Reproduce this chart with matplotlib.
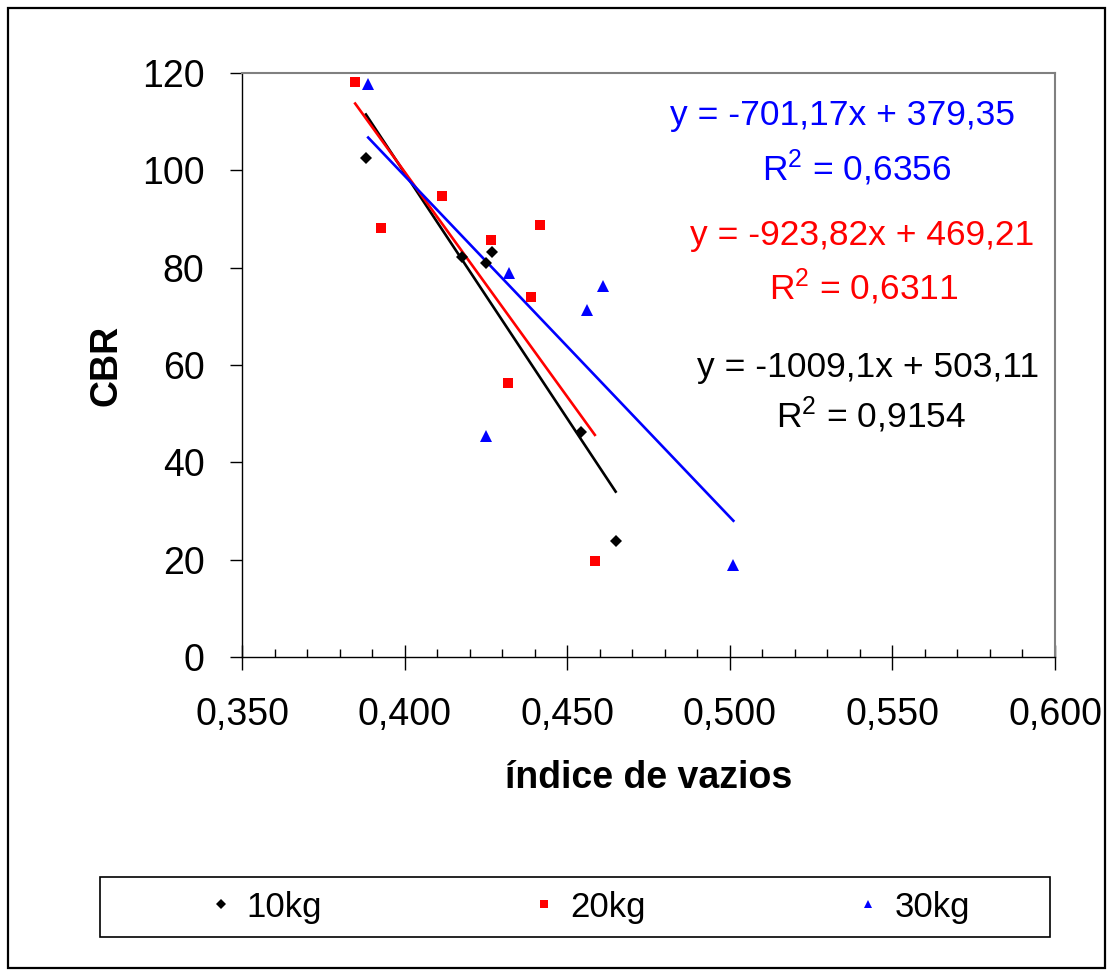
import numpy as np
import matplotlib
matplotlib.use('Agg')
import matplotlib.pyplot as plt
from matplotlib.patches import Rectangle
from matplotlib.ticker import MultipleLocator, FuncFormatter

plt.rcParams['font.family'] = ['Liberation Sans', 'DejaVu Sans']
plt.rcParams['mathtext.fontset'] = 'custom'
plt.rcParams['mathtext.rm'] = 'Liberation Sans'
plt.rcParams['mathtext.it'] = 'Liberation Sans'

# 10kg
x_10 = [0.3881, 0.4176, 0.4249, 0.4268, 0.4541, 0.4649]
y_10 = [102.5, 82.1, 80.9, 83.3, 46.2, 23.9]
# 20kg
x_20 = [0.3848, 0.3928, 0.4116, 0.4266, 0.4416, 0.4389, 0.4317, 0.4585]
y_20 = [118.1, 88.1, 94.7, 85.6, 88.8, 74.0, 56.4, 19.7]
# 30kg
x_30 = [0.3888, 0.4321, 0.4249, 0.4611, 0.4560, 0.5011]
y_30 = [117.7, 79.0, 45.5, 76.2, 71.2, 18.9]

series_names = ['10kg', '20kg', '30kg']
slopes = [-1009.1, -923.82, -701.17]
intercepts = [503.11, 469.21, 379.35]
r2_values = ['0,9154', '0,6311', '0,6356']
eq_texts = ['y = -1009,1x + 503,11', 'y = -923,82x + 469,21', 'y = -701,17x + 379,35']

colors = ['black', '#ff0000', '#0000ff']
markers = ['D', 's', '^']
msizes = [6, 7, 8]

W, H = 1113, 976
fig = plt.figure(figsize=(W / 100, H / 100), dpi=100)

def fx(px):
    return px / W

def fy(py):
    return 1 - py / H

ax = fig.add_axes([fx(242), fy(657), fx(1055) - fx(242), fy(73) - fy(657)])

xs = [x_10, x_20, x_30]
ys = [y_10, y_20, y_30]
handles = []
for i in range(3):
    h, = ax.plot(xs[i], ys[i], linestyle='none', marker=markers[i], color=colors[i],
                 markersize=msizes[i], markeredgewidth=0, label=series_names[i], zorder=3)
    handles.append(h)
    xl = np.array([min(xs[i]), max(xs[i])])
    ax.plot(xl, slopes[i] * xl + intercepts[i], color=colors[i], linewidth=1.9, zorder=2)

ax.set_xlim(0.35, 0.60)
ax.set_ylim(0, 120)
ax.xaxis.set_major_locator(MultipleLocator(0.05))
ax.xaxis.set_minor_locator(MultipleLocator(0.01))
ax.yaxis.set_major_locator(MultipleLocator(20))
ax.xaxis.set_major_formatter(FuncFormatter(lambda v, p: ('%.3f' % v).replace('.', ',')))
ax.yaxis.set_major_formatter(FuncFormatter(lambda v, p: '%d' % v))
ax.tick_params(axis='x', which='major', direction='inout', length=18, width=1, labelsize=27, pad=20)
ax.tick_params(axis='x', which='minor', direction='in', length=6, width=1)
ax.tick_params(axis='y', which='major', direction='out', length=9, width=1, labelsize=27, pad=18)

for s in ['top', 'right']:
    ax.spines[s].set_color('#808080')
    ax.spines[s].set_linewidth(1.5)
for s in ['left', 'bottom']:
    ax.spines[s].set_color('black')
    ax.spines[s].set_linewidth(1)

fig.text(fx(649), fy(778), 'índice de vazios', ha='center', va='center', fontsize=27, fontweight='bold')
fig.text(fx(107), fy(365), 'CBR', ha='center', va='center', fontsize=27, fontweight='bold', rotation=90)

# equation labels: black, red, blue
eq_pos = [(868, 368, 871, 415), (862, 236, 864, 287), (843, 116, 857, 168)]
for i in range(3):
    x1, y1, x2, y2 = eq_pos[i]
    fig.text(fx(x1), fy(y1), eq_texts[i], ha='center', va='center', fontsize=25.5, color=colors[i])
    fig.text(fx(x2), fy(y2), 'R$^2$ = ' + r2_values[i], ha='center', va='center', fontsize=25.5, color=colors[i])

# legend box drawn separately, entries placed inside it
fig.patches.append(Rectangle((fx(100), fy(937)), fx(1050) - fx(100), fy(877) - fy(937),
                             transform=fig.transFigure, fill=False, edgecolor='black', linewidth=1.2))
leg = fig.legend(handles=handles, labels=series_names, ncol=3,
                 bbox_to_anchor=(fx(590), fy(907)), loc='center', fontsize=25, frameon=False,
                 handlelength=0.6, handletextpad=0.45, columnspacing=6.1, borderaxespad=0,
                 markerscale=0.8)

fig.patches.append(Rectangle((fx(8), fy(968)), fx(1105) - fx(8), fy(8) - fy(968),
                             transform=fig.transFigure, fill=False, edgecolor='black', linewidth=1.6))

fig.savefig('out.png', dpi=100, facecolor='white')
